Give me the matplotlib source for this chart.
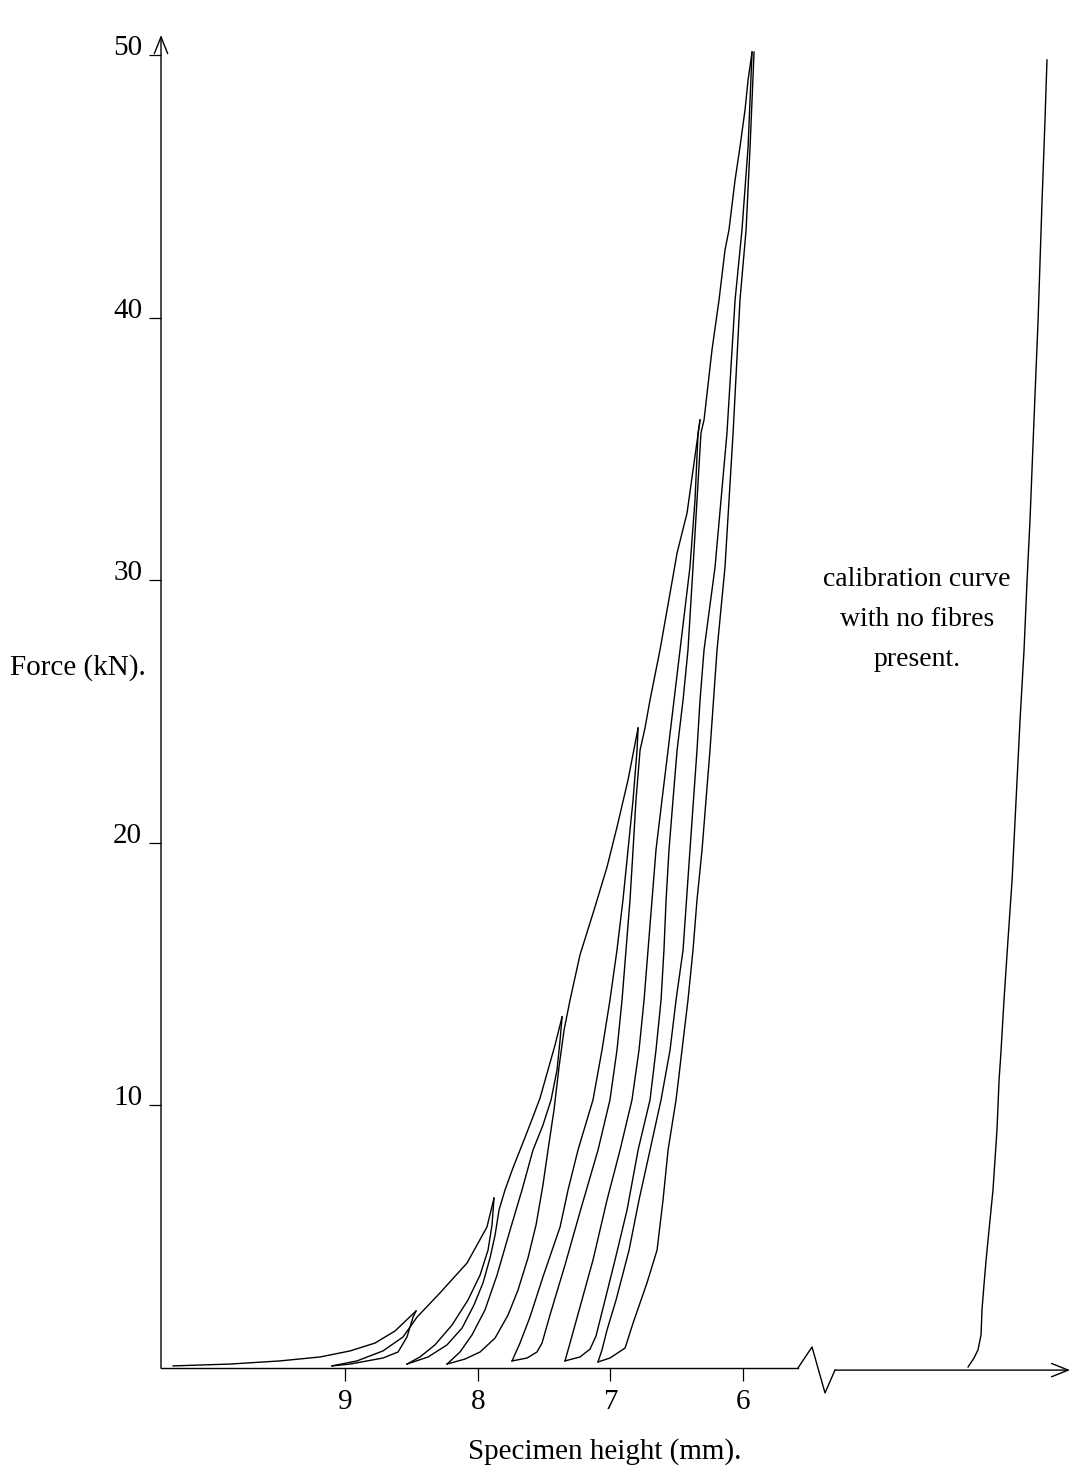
import matplotlib
matplotlib.use("Agg")
import matplotlib.pyplot as plt


output_filename = "out.png"

x_label = "Specimen height (mm)."
y_label = "Force (kN)."
calib_text = ["calibration curve", "with no fibres", "present."]

x_ticks = [9, 8, 7, 6]
y_ticks = [10, 20, 30, 40, 50]

# --- cyclic loading of the fibre specimen: (height mm, force kN) per branch ---
load1_h = [10.296, 9.867, 9.490, 9.188, 8.962, 8.774, 8.623, 8.465]
load1_f = [0.08, 0.15, 0.27, 0.42, 0.65, 0.95, 1.41, 2.17]

unload1_h = [8.465, 8.487, 8.533, 8.600, 8.714, 8.962, 9.098]
unload1_f = [2.17, 1.94, 1.18, 0.61, 0.38, 0.15, 0.08]

reload2_h = [9.098, 8.910, 8.714, 8.563, 8.457, 8.284, 8.080, 7.930, 7.877]
reload2_f = [0.08, 0.27, 0.65, 1.18, 1.94, 2.86, 4.00, 5.37, 6.47]

unload2_h = [7.877, 7.892, 7.922, 7.982, 8.073, 8.193, 8.322, 8.435, 8.533]
unload2_f = [6.47, 5.45, 4.49, 3.54, 2.59, 1.64, 0.88, 0.42, 0.15]

reload3_h = [8.533, 8.374, 8.231, 8.118, 8.028, 7.960, 7.907, 7.869, 7.839,
             7.794, 7.734, 7.666, 7.598, 7.530, 7.470, 7.417, 7.364]
reload3_f = [0.15, 0.42, 0.88, 1.52, 2.40, 3.24, 4.19, 5.06, 6.02,
             6.78, 7.62, 8.49, 9.37, 10.28, 11.35, 12.30, 13.37]

unload3_h = [7.364, 7.379, 7.402, 7.447, 7.508, 7.583, 7.666, 7.756, 7.854,
             7.945, 8.043, 8.133, 8.231]
unload3_f = [13.37, 12.49, 11.35, 10.21, 9.25, 8.30, 6.78, 5.25, 3.54,
             2.21, 1.26, 0.61, 0.15]

reload4_h = [8.231, 8.096, 7.982, 7.869, 7.771, 7.696, 7.621, 7.560, 7.508,
             7.470, 7.425, 7.387, 7.349, 7.304, 7.229, 7.123, 7.025, 6.950,
             6.867, 6.791]
reload4_f = [0.15, 0.34, 0.61, 1.14, 2.02, 2.97, 4.19, 5.45, 6.97,
             8.30, 9.82, 11.46, 12.87, 14.01, 15.73, 17.44, 19.08, 20.60,
             22.39, 24.37]

unload4_h = [6.791, 6.799, 6.829, 6.867, 6.905, 6.950, 7.003, 7.063, 7.131,
             7.244, 7.319, 7.379, 7.508, 7.606, 7.681, 7.741]
unload4_f = [24.37, 23.53, 21.63, 19.73, 17.82, 15.92, 14.01, 12.11, 10.21,
             8.30, 6.78, 5.37, 3.47, 1.94, 0.95, 0.27]

reload5_h = [7.741, 7.628, 7.553, 7.515, 7.455, 7.342, 7.229, 7.093, 7.003,
             6.950, 6.912, 6.882, 6.852, 6.829, 6.807, 6.776, 6.739, 6.701,
             6.626, 6.550, 6.497, 6.422, 6.324]
reload5_f = [0.27, 0.38, 0.61, 0.95, 2.02, 3.92, 5.94, 8.30, 10.21,
             12.11, 14.01, 15.92, 17.82, 19.73, 21.63, 23.53, 24.37, 25.44,
             27.34, 29.51, 31.04, 32.56, 36.10]

unload5_h = [6.324, 6.339, 6.362, 6.400, 6.475, 6.520, 6.565, 6.611, 6.656,
             6.686, 6.716, 6.746, 6.784, 6.837, 6.927, 7.025, 7.131, 7.229,
             7.304, 7.342]
unload5_f = [36.10, 35.61, 33.05, 30.50, 27.34, 25.44, 23.53, 21.63, 19.73,
             17.82, 15.92, 14.01, 12.11, 10.21, 8.30, 6.40, 4.11, 2.32,
             0.95, 0.27]

reload6_h = [7.342, 7.229, 7.153, 7.108, 7.040, 6.965, 6.874, 6.791, 6.701,
             6.656, 6.618, 6.596, 6.580, 6.558, 6.528, 6.497, 6.452, 6.415,
             6.377, 6.347, 6.317, 6.294, 6.234, 6.181, 6.136, 6.106, 6.060,
             6.023, 5.985, 5.962, 5.932]
reload6_f = [0.27, 0.42, 0.72, 1.22, 2.59, 4.11, 6.02, 8.30, 10.21,
             12.11, 14.01, 15.92, 17.82, 19.73, 21.63, 23.53, 25.44, 27.34,
             30.50, 33.05, 35.61, 36.10, 38.77, 40.67, 42.57, 43.34, 45.24,
             46.50, 47.91, 49.05, 50.11]

unload6_h = [5.932, 5.962, 6.008, 6.060, 6.121, 6.211, 6.294, 6.324, 6.347,
             6.400, 6.452, 6.505, 6.550, 6.618, 6.701, 6.784, 6.859, 6.957,
             7.025, 7.063, 7.093]
unload6_f = [50.11, 46.50, 43.34, 40.67, 35.61, 30.50, 27.34, 25.44, 23.53,
             19.73, 15.92, 14.01, 12.11, 10.21, 8.30, 6.40, 4.49, 2.59,
             1.45, 0.69, 0.23]

reload7_h = [7.093, 7.003, 6.889, 6.829, 6.724, 6.648, 6.603, 6.565, 6.505,
             6.460, 6.415, 6.377, 6.347, 6.309, 6.249, 6.196, 6.136, 6.075,
             6.023, 5.977, 5.947, 5.917]
reload7_f = [0.23, 0.38, 0.76, 1.71, 3.24, 4.49, 6.40, 8.30, 10.21,
             12.11, 14.01, 15.92, 17.82, 19.73, 23.53, 27.34, 30.50, 35.61,
             40.67, 43.34, 46.50, 50.11]

# calibration run, drawn past the axis break
calib_pos = [4.304, 4.259, 4.229, 4.206, 4.199, 4.184, 4.168, 4.146, 4.116,
             4.086, 4.070, 4.055, 4.033, 4.003, 3.972, 3.942, 3.912, 3.882,
             3.859, 3.837, 3.807, 3.776, 3.746, 3.724, 3.709]
calib_force = [0.04, 0.38, 0.69, 1.26, 2.21, 3.16, 4.11, 5.25, 6.78,
               9.06, 10.97, 12.11, 14.01, 16.30, 18.58, 21.63, 24.68, 27.34,
               30.01, 32.29, 36.10, 39.91, 44.48, 47.52, 49.81]

branches = [
    (load1_h, load1_f), (unload1_h, unload1_f),
    (reload2_h, reload2_f), (unload2_h, unload2_f),
    (reload3_h, reload3_f), (unload3_h, unload3_f),
    (reload4_h, reload4_f), (unload4_h, unload4_f),
    (reload5_h, reload5_f), (unload5_h, unload5_f),
    (reload6_h, reload6_f), (unload6_h, unload6_f),
    (reload7_h, reload7_f),
]

# axis geometry (data units)
x_left, x_right = 10.387, 3.528
y_top = 52.094
break_start = 5.586
axis_break_x = [5.586, 5.480, 5.382, 5.307]
axis_break_y = [0.0, 0.80, -0.95, -0.08]
x_arrow_end = 3.535
y_arrow_end = 50.76


def plot_cycles(output_filename):
    plt.rcParams['font.family'] = ['Liberation Serif', 'DejaVu Serif']

    fig = plt.figure(figsize=(10.71, 14.68), dpi=100)
    ax = fig.add_axes([161 / 1071, 100 / 1468, 910 / 1071, 1368 / 1468])
    ax.set_xlim(x_left, x_right)
    ax.set_ylim(0, y_top)
    for sp in ax.spines.values():
        sp.set_visible(False)

    line_kw = dict(color='black', linewidth=1.0, clip_on=False)
    for h, f in branches:
        ax.plot(h, f, **line_kw)
    ax.plot(calib_pos, calib_force, **line_kw)

    # axes drawn by hand: arrow heads and the break in the height axis
    arrow = dict(arrowstyle='->, head_length=0.6, head_width=0.24',
                 color='black', lw=1.0, shrinkA=0, shrinkB=0,
                 mutation_scale=20)
    ax.plot([x_left, break_start], [0, 0], **line_kw)
    ax.plot(axis_break_x, axis_break_y, **line_kw)
    ax.annotate('', xy=(x_arrow_end, axis_break_y[-1]),
                xytext=(axis_break_x[-1], axis_break_y[-1]),
                arrowprops=arrow, annotation_clip=False)
    ax.annotate('', xy=(x_left, y_arrow_end), xytext=(x_left, 0),
                arrowprops=arrow, annotation_clip=False)

    ax.set_xticks(x_ticks, [str(t) for t in x_ticks])
    ax.set_yticks(y_ticks, [str(t) for t in y_ticks], va='baseline')
    ax.tick_params(axis='x', direction='out', length=9.4, width=0.9,
                   pad=6, labelsize=21)
    ax.tick_params(axis='y', direction='out', length=8.6, width=0.9,
                   pad=5, labelsize=21)

    fig.text(605 / 1071, 1 - 1459 / 1468, x_label, ha='center',
             va='baseline', fontsize=21)
    fig.text(10 / 1071, 1 - 668 / 1468, y_label, ha='left',
             va='center', fontsize=21)
    for i, line in enumerate(calib_text):
        fig.text(917 / 1071, 1 - (580 + 40 * i) / 1468, line, ha='center',
                 va='center', fontsize=20)

    fig.savefig(output_filename, dpi=100)


if __name__ == "__main__":
    plot_cycles(output_filename)
